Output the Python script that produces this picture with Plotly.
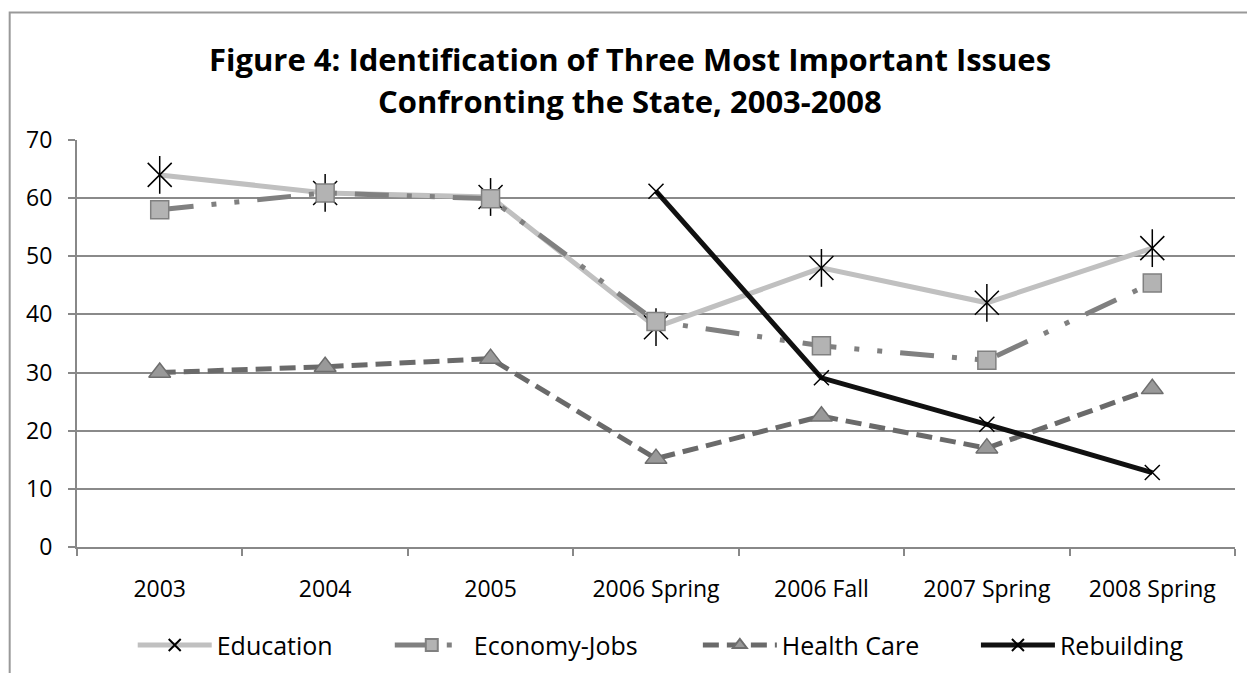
import plotly.graph_objects as go

categories = ["2003", "2004", "2005", "2006 Spring", "2006 Fall", "2007 Spring", "2008 Spring"]
education = [64, 60.9, 60.2, 37.8, 48.0, 42.0, 51.4]
economy_jobs = [58.0, 60.9, 59.9, 38.8, 34.6, 32.1, 45.4]
health_care = [30.0, 31.0, 32.4, 15.2, 22.5, 17.0, 27.2]
rebuilding = [None, None, None, 61.2, 29.1, 21.1, 12.8]
y_ticks = [0, 10, 20, 30, 40, 50, 60, 70]
title_lines = ["Figure 4: Identification of Three Most Important Issues",
               "Confronting the State, 2003-2008"]

W, H = 1247, 673
PL, PR = 77.3, 1235.0      # plot area px
PT, PB = 139.5, 546.7
FONT = "Open Sans"

def px_x(x):
    return (x - PL) / (PR - PL)

def px_y(y):
    return (PB - y) / (PB - PT)

fig = go.Figure()

# Education: light line with a six-armed star (X + vertical stroke)
fig.add_trace(go.Scatter(
    x=categories, y=education, name="Education", mode="lines+markers",
    line=dict(color="#c0c0c0", width=5),
    marker=dict(symbol="x-thin-open", size=24, color="#000000",
                line=dict(color="#000000", width=1.5)),
    legend="legend"))
fig.add_trace(go.Scatter(
    x=categories, y=education, name="Education", mode="markers",
    marker=dict(symbol="line-ns-open", size=27, color="#000000",
                line=dict(color="#000000", width=1.5)),
    showlegend=False, hoverinfo="skip"))
fig.add_trace(go.Scatter(
    x=categories, y=economy_jobs, name="Economy-Jobs", mode="lines+markers",
    line=dict(color="#808080", width=5, dash="34px,18px,5px,18px,5px,18px"),
    marker=dict(symbol="square", size=18, color="#b3b3b3",
                line=dict(color="#808080", width=1.5)),
    legend="legend2"))
fig.add_trace(go.Scatter(
    x=categories, y=health_care, name="Health Care", mode="lines+markers",
    line=dict(color="#6a6a6a", width=5, dash="16px,8px"),
    marker=dict(symbol="triangle-up", size=19, color="#999999",
                line=dict(color="#6e6e6e", width=1.5)),
    legend="legend3"))
fig.add_trace(go.Scatter(
    x=categories, y=rebuilding, name="Rebuilding", mode="lines+markers",
    line=dict(color="#111111", width=5),
    marker=dict(symbol="x-thin-open", size=15, color="#000000",
                line=dict(color="#000000", width=1.5)),
    connectgaps=False,
    legend="legend4"))

leg_common = dict(orientation="h", xanchor="left", yanchor="middle",
                  y=px_y(645), font=dict(family=FONT, size=25, color="#000000"),
                  itemwidth=74, bgcolor="rgba(0,0,0,0)", borderwidth=0,
                  itemsizing="constant")
fig.update_layout(
    legend=dict(x=px_x(133), **leg_common),
    legend2=dict(x=px_x(390), **leg_common),
    legend3=dict(x=px_x(698), **leg_common),
    legend4=dict(x=px_x(976), **leg_common),
)

for i, t in enumerate(title_lines):
    fig.add_annotation(text="<b>%s</b>" % t, xref="paper", yref="paper",
                       x=px_x(630), y=px_y(58 + 42 * i), xanchor="center", yanchor="middle",
                       showarrow=False, font=dict(family=FONT, size=31, color="#000000"))

fig.add_shape(type="rect", xref="paper", yref="paper",
              x0=px_x(10), x1=px_x(1260), y0=px_y(690), y1=px_y(12),
              line=dict(color="#999999", width=2), fillcolor="rgba(0,0,0,0)", layer="below")

fig.update_layout(
    width=W, height=H,
    margin=dict(l=PL, r=W - PR, t=PT, b=H - PB, pad=0, autoexpand=False),
    paper_bgcolor="#ffffff", plot_bgcolor="#ffffff",
    font=dict(family=FONT, size=23, color="#000000"),
    showlegend=True,
    xaxis=dict(type="category", categoryorder="array", categoryarray=categories,
               range=[-0.5, len(categories) - 0.5],
               showline=True, linecolor="#888888", linewidth=2,
               ticks="outside", tickson="boundaries", ticklen=7, tickwidth=2, tickcolor="#888888",
               showgrid=False, ticklabelstandoff=20,
               tickfont=dict(family=FONT, size=23, color="#000000")),
    yaxis=dict(range=[0, 70], tickvals=y_ticks, showline=True, linecolor="#888888", linewidth=2,
               ticks="outside", ticklen=7, tickwidth=2, tickcolor="#888888",
               showgrid=True, gridcolor="#8a8a8a", gridwidth=1.5, zeroline=False,
               ticklabelstandoff=11,
               tickfont=dict(family=FONT, size=23, color="#000000")),
)

fig.write_html("out.html", config={"displayModeBar": False},
               post_script="document.body.style.margin='0';document.body.style.overflow='hidden';")
